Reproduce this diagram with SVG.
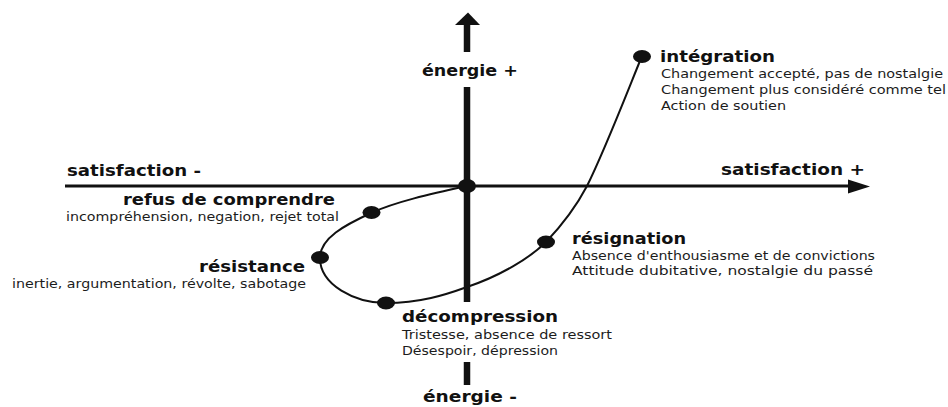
<svg xmlns="http://www.w3.org/2000/svg" width="948" height="407" viewBox="0 0 948 407">
<style>
.t{font-family:"DejaVu Sans","Liberation Sans",sans-serif;font-weight:bold;font-size:16px;fill:#111}
.ax{font-family:"DejaVu Sans","Liberation Sans",sans-serif;font-weight:bold;font-size:15px;fill:#111}
.s{font-family:"DejaVu Sans","Liberation Sans",sans-serif;font-size:12px;fill:#1c1c1c}
.dot{fill:#111}
.axis{stroke:#111;fill:none}
.curve{stroke:#111;stroke-width:2;fill:none}
</style>
<rect width="948" height="407" fill="#fff"/>
<g id="axes">
  <line class="axis" x1="65" y1="186" x2="852" y2="186" stroke-width="3"/>
  <polygon points="848,179.5 870,186.5 848,193.5" fill="#111"/>
  <line class="axis" x1="467" y1="24" x2="467" y2="52" stroke-width="6.5"/>
  <polygon points="455,25 468,12.5 480,25" fill="#111"/>
  <line class="axis" x1="467" y1="87" x2="467" y2="302" stroke-width="6.5"/>
  <line class="axis" x1="467" y1="362" x2="467" y2="385" stroke-width="6.5"/>
  <text class="ax" x="67" y="176" textLength="134" lengthAdjust="spacingAndGlyphs">satisfaction -</text>
  <text class="ax" x="721" y="175" textLength="144" lengthAdjust="spacingAndGlyphs">satisfaction +</text>
  <text class="ax" x="422" y="76" textLength="96" lengthAdjust="spacingAndGlyphs">énergie +</text>
  <text class="ax" x="423" y="401.5" textLength="94" lengthAdjust="spacingAndGlyphs">énergie -</text>
</g>
<g id="connectors">
  <path class="curve" d="M467,186 C430,194 395,202 371,213 C345,225 320,238 320,258 C320,285 355,303 386,303 C420,303 445,295 467,287 C500,276 530,258 546,242 C565,222 577,205 587,186 C605,150 630,85 642,56"/>
</g>
<g id="origin">
  <ellipse class="dot" cx="467" cy="186" rx="9" ry="7"/>
</g>
<g id="refus">
  <ellipse class="dot" cx="371.5" cy="212.5" rx="9" ry="6.5"/>
  <text class="t" x="123" y="204.5" textLength="212" lengthAdjust="spacingAndGlyphs">refus de comprendre</text>
  <text class="s" x="66" y="220.5" textLength="273" lengthAdjust="spacingAndGlyphs">incompréhension, negation, rejet total</text>
</g>
<g id="resistance">
  <ellipse class="dot" cx="320" cy="257.5" rx="9" ry="6.5"/>
  <text class="t" x="199" y="271.5" textLength="106" lengthAdjust="spacingAndGlyphs">résistance</text>
  <text class="s" x="12" y="287.5" textLength="294" lengthAdjust="spacingAndGlyphs">inertie, argumentation, révolte, sabotage</text>
</g>
<g id="decompression">
  <ellipse class="dot" cx="386" cy="303" rx="9" ry="6.5"/>
  <text class="t" x="402" y="321.5" textLength="156" lengthAdjust="spacingAndGlyphs">décompression</text>
  <text class="s" x="402" y="338.5" textLength="210" lengthAdjust="spacingAndGlyphs">Tristesse, absence de ressort</text>
  <text class="s" x="402" y="354.5" textLength="156" lengthAdjust="spacingAndGlyphs">Désespoir, dépression</text>
</g>
<g id="resignation">
  <ellipse class="dot" cx="546" cy="242" rx="9" ry="6.5"/>
  <text class="t" x="572" y="243.5" textLength="114" lengthAdjust="spacingAndGlyphs">résignation</text>
  <text class="s" x="572" y="259.5" textLength="303" lengthAdjust="spacingAndGlyphs">Absence d'enthousiasme et de convictions</text>
  <text class="s" x="572" y="274.5" textLength="301" lengthAdjust="spacingAndGlyphs">Attitude dubitative, nostalgie du passé</text>
</g>
<g id="integration">
  <ellipse class="dot" cx="642" cy="56.5" rx="9" ry="6.5"/>
  <text class="t" x="660" y="61.5" textLength="115" lengthAdjust="spacingAndGlyphs">intégration</text>
  <text class="s" x="661" y="77.5" textLength="282" lengthAdjust="spacingAndGlyphs">Changement accepté, pas de nostalgie</text>
  <text class="s" x="661" y="93.5" textLength="285" lengthAdjust="spacingAndGlyphs">Changement plus considéré comme tel</text>
  <text class="s" x="661" y="110" textLength="125" lengthAdjust="spacingAndGlyphs">Action de soutien</text>
</g>
</svg>
